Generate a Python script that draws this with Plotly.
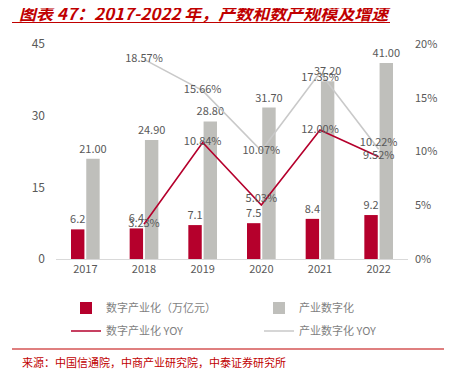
import plotly.graph_objects as go

years = ["2017", "2018", "2019", "2020", "2021", "2022"]
digital_industry = [6.2, 6.4, 7.1, 7.5, 8.4, 9.2]
industry_digital = [21.00, 24.90, 28.80, 31.70, 37.20, 41.00]
yoy_years = ["2018", "2019", "2020", "2021", "2022"]
digital_industry_yoy = [3.23, 10.84, 5.03, 12.00, 9.52]
industry_digital_yoy = [18.57, 15.66, 10.07, 17.35, 10.22]
left_ticks = [0, 15, 30, 45]
right_ticks = [0, 5, 10, 15, 20]

RED = "#B5002C"
GRAY_BAR = "#BFBFBB"
GRAY_LINE = "#C9C9C9"
TXT = "#595959"
FONT = "Noto Sans CJK SC, Liberation Sans, sans-serif"

fig = go.Figure()
fig.add_trace(go.Bar(
    x=years, y=digital_industry, name="数字产业化（万亿元）", legend="legend",
    marker=dict(color=RED, line=dict(width=0)),
    text=[f"{v:.1f}" for v in digital_industry], textposition="outside",
    constraintext="none",
    textfont=dict(color=TXT, size=11), cliponaxis=False,
))
fig.add_trace(go.Bar(
    x=years, y=industry_digital, name="产业数字化", legend="legend2",
    marker=dict(color=GRAY_BAR, line=dict(width=0)),
    text=[f"{v:.2f}" for v in industry_digital], textposition="outside",
    constraintext="none",
    textfont=dict(color=TXT, size=11), cliponaxis=False,
))
fig.add_trace(go.Scatter(
    x=yoy_years, y=digital_industry_yoy, name="数字产业化 YOY", yaxis="y2",
    legend="legend3",
    mode="lines+text", line=dict(color=RED, width=1.6),
    text=[f"{v:.2f}%" for v in digital_industry_yoy],
    textposition=["middle center", "middle center", "top center", "middle center", "middle center"],
    textfont=dict(color=TXT, size=11), cliponaxis=False,
))
fig.add_trace(go.Scatter(
    x=yoy_years, y=industry_digital_yoy, name="产业数字化 YOY", yaxis="y2",
    legend="legend4",
    mode="lines+text", line=dict(color=GRAY_LINE, width=1.6),
    text=[f"{v:.2f}%" for v in industry_digital_yoy],
    textposition=["middle center", "middle center", "middle center", "bottom center", "top center"],
    textfont=dict(color=TXT, size=11), cliponaxis=False,
))

leg_common = dict(orientation="h", xanchor="left", yanchor="middle",
                  itemwidth=30, font=dict(size=11, color="#7F7F7F"),
                  bgcolor="rgba(0,0,0,0)")
c1, c2 = (66 - 56) / 352, (259 - 56) / 352
r1, r2 = (259 - 308) / 215, (259 - 331) / 215

fig.update_layout(
    width=444, height=373,
    margin=dict(l=48, r=44, t=36, b=122, autoexpand=False),
    paper_bgcolor="white", plot_bgcolor="white",
    font=dict(family=FONT, color=TXT, size=11),
    barmode="group", bargap=0.48, bargroupgap=0.12,
    showlegend=True,
    legend=dict(x=c1, y=r1, **leg_common),
    legend2=dict(x=c2, y=r1, **leg_common),
    legend3=dict(x=c1, y=r2, **leg_common),
    legend4=dict(x=c2, y=r2, **leg_common),
    xaxis=dict(type="category", categoryorder="array", categoryarray=years,
               showline=True, linecolor="#D9D9D9", linewidth=1, ticks="",
               tickfont=dict(size=11, color=TXT), showgrid=False, automargin=False),
    yaxis=dict(range=[0, 45], tickvals=left_ticks, showgrid=False,
               zeroline=False, showline=False, tickfont=dict(size=12, color=TXT),
               ticklabelstandoff=10, automargin=False),
    yaxis2=dict(range=[0, 20], tickvals=right_ticks,
                ticktext=[f"{v}%" for v in right_ticks],
                overlaying="y", side="right", showgrid=False, zeroline=False,
                showline=False, tickfont=dict(size=11, color=TXT),
                ticklabelstandoff=6, automargin=False),
)

fig.add_annotation(text="<b><i>图表 47：2017-2022 年，产数和数产规模及增速</i></b>",
                   xref="paper", yref="paper", x=(17 - 56) / 352, y=(259 - 12.5) / 215,
                   xanchor="left", yanchor="middle", showarrow=False,
                   font=dict(size=17, color="#C00000", family=FONT))
fig.add_shape(type="line", xref="paper", yref="paper",
              x0=(12 - 56) / 352, x1=(390 - 56) / 352,
              y0=(259 - 22.5) / 215, y1=(259 - 22.5) / 215,
              line=dict(color="#C00000", width=1.2))
fig.add_shape(type="line", xref="paper", yref="paper",
              x0=(12 - 56) / 352, x1=(450 - 56) / 352,
              y0=(259 - 349) / 215, y1=(259 - 349) / 215,
              line=dict(color="#C00000", width=1.2))
fig.add_annotation(text="来源：中国信通院，中商产业研究院，中泰证券研究所",
                   xref="paper", yref="paper", x=(20 - 56) / 352, y=(259 - 362) / 215,
                   xanchor="left", yanchor="middle", showarrow=False,
                   font=dict(size=11, color="#C00000", family=FONT))

fig.write_html("out.html")
